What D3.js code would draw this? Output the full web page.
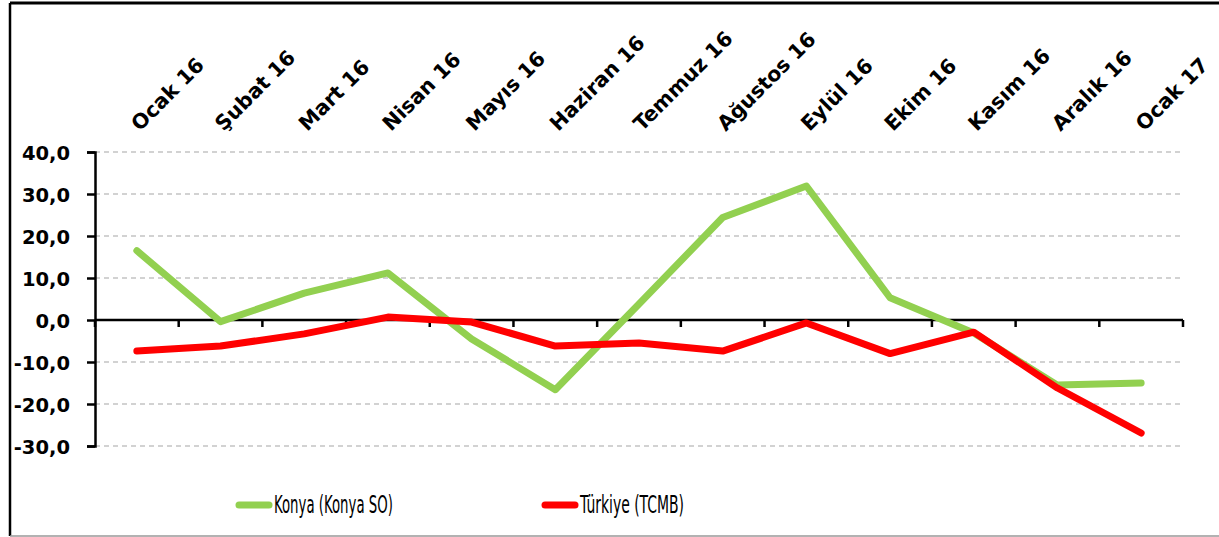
<!DOCTYPE html>
<html lang="tr">
<head>
<meta charset="UTF-8">
<title>Konya - Türkiye</title>
<script src="https://d3js.org/d3.v7.min.js"></script>
<style>
  body { margin: 0; background: #fff; }
  svg { display: block; }
  .lbl { font-family: "DejaVu Sans", sans-serif; font-weight: bold; fill: #000; }
  .leg { font-family: "Liberation Sans Narrow", "DejaVu Sans Condensed", sans-serif; fill: #000; }
</style>
</head>
<body>
<svg id="chart"></svg>
<script>
// months on the x axis
var months = ["Ocak 16", "Şubat 16", "Mart 16", "Nisan 16", "Mayıs 16", "Haziran 16", "Temmuz 16",
  "Ağustos 16", "Eylül 16", "Ekim 16", "Kasım 16", "Aralık 16", "Ocak 17"];

// series values
var konya = [16.5, -0.4, 6.4, 11.2, -4.5, -16.6, 3.8, 24.4, 31.9, 5.3, -3.1, -15.5, -15.0];
var turkiye = [-7.4, -6.2, -3.3, 0.7, -0.5, -6.2, -5.5, -7.4, -0.7, -8.0, -2.9, -16.2, -26.9];

var yTicks = [40, 30, 20, 10, 0, -10, -20, -30];

var series = [
  { name: "Konya (Konya SO)", values: konya, color: "#92D050", lx: 236, tw: 119 },
  { name: "Türkiye (TCMB)", values: turkiye, color: "#FF0000", lx: 542, tw: 104 }
];

var W = 1219, H = 537;
var svg = d3.select("#chart").attr("width", W).attr("height", H);

// frame
svg.append("line").attr("x1", 10).attr("x2", 10).attr("y1", 3).attr("y2", 536)
  .attr("stroke", "#000").attr("stroke-width", 2.5);
svg.append("line").attr("x1", 10).attr("x2", W).attr("y1", 3).attr("y2", 3)
  .attr("stroke", "#000").attr("stroke-width", 3);
svg.append("line").attr("x1", 10).attr("x2", W).attr("y1", 536).attr("y2", 536)
  .attr("stroke", "#999").attr("stroke-width", 1.5);

var x = d3.scaleBand().domain(months).range([95, 1183]);
var y = d3.scaleLinear().domain([-30, 40]).range([446, 152]);
var xc = function(d) { return x(d) + x.bandwidth() / 2; };

// dashed gridlines
svg.append("g").selectAll("line")
  .data(yTicks.filter(function(v) { return v !== 0; }))
  .enter().append("line")
    .attr("x1", 95).attr("x2", 1183)
    .attr("y1", function(d) { return y(d); })
    .attr("y2", function(d) { return y(d); })
    .attr("stroke", "#A6A6A6").attr("stroke-width", 1.2)
    .attr("stroke-dasharray", "5,4");

// y axis
var yAxis = svg.append("g").attr("transform", "translate(95,0)")
  .call(d3.axisLeft(y).tickValues(yTicks).tickSize(8).tickPadding(6)
    .tickFormat(function(d) { return d3.format(".1f")(d).replace(".", ",").replace("−", "-"); }));
yAxis.select(".domain").attr("stroke", "#000").attr("stroke-width", 2.5);
yAxis.selectAll(".tick line").attr("stroke", "#000").attr("stroke-width", 2.5);
yAxis.selectAll(".tick text").attr("class", "lbl").style("font-size", "19.5px")
  .attr("x", -25).attr("dy", "0.36em");

// x axis line at zero with ticks at category boundaries
svg.append("line").attr("x1", 95).attr("x2", 1183).attr("y1", y(0)).attr("y2", y(0))
  .attr("stroke", "#000").attr("stroke-width", 2.5);
svg.append("g").selectAll("line")
  .data(months.concat(["end"]))
  .enter().append("line")
    .attr("x1", function(d, i) { return i < months.length ? x(d) : 1183; })
    .attr("x2", function(d, i) { return i < months.length ? x(d) : 1183; })
    .attr("y1", y(0)).attr("y2", y(0) + 7)
    .attr("stroke", "#000").attr("stroke-width", 2.5);

// rotated month labels on top
svg.append("g").selectAll("text")
  .data(months)
  .enter().append("text")
    .attr("class", "lbl")
    .style("font-size", "20.5px")
    .attr("text-anchor", "start")
    .attr("transform", function(d) { return "translate(" + (xc(d) + 3) + ",132) rotate(-45)"; })
    .text(function(d) { return d; });

// lines
var line = d3.line()
  .x(function(d, i) { return xc(months[i]); })
  .y(function(d) { return y(d); });

svg.append("g").selectAll("path")
  .data(series)
  .enter().append("path")
    .attr("d", function(s) { return line(s.values); })
    .attr("fill", "none")
    .attr("stroke", function(s) { return s.color; })
    .attr("stroke-width", 7)
    .attr("stroke-linecap", "round")
    .attr("stroke-linejoin", "round");

// legend
var leg = svg.append("g").selectAll("g").data(series).enter().append("g");
leg.append("line")
  .attr("x1", function(s) { return s.lx + 3; })
  .attr("x2", function(s) { return s.lx + 33; })
  .attr("y1", 505).attr("y2", 505)
  .attr("stroke", function(s) { return s.color; })
  .attr("stroke-width", 7).attr("stroke-linecap", "round");
leg.append("text")
  .attr("class", "leg")
  .style("font-size", "24px")
  .style("font-weight", 500)
  .attr("x", 0)
  .attr("y", 0)
  .text(function(s) { return s.name; })
  .attr("transform", function(s) {
    // squeeze the text to the width it has in the picture
    var k = s.tw / this.getComputedTextLength();
    return "translate(" + (s.lx + 38) + ",513) scale(" + k + ",1)";
  });
</script>
</body>
</html>
